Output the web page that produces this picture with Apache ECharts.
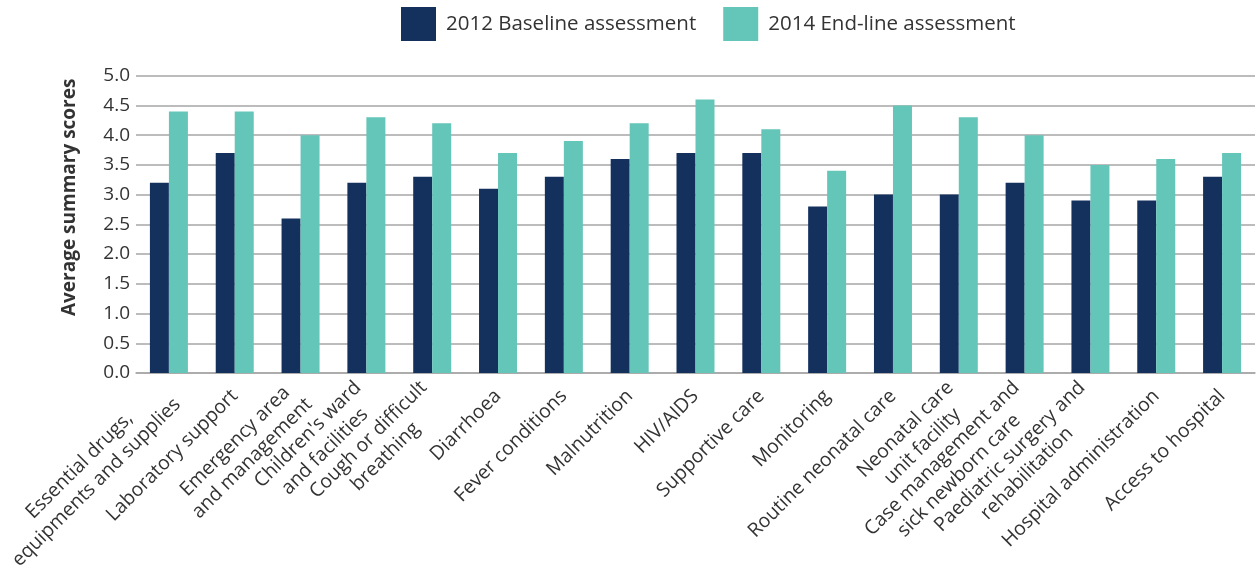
<!DOCTYPE html>
<html><head><meta charset="utf-8">
<script src="https://cdn.jsdelivr.net/npm/echarts@6/dist/echarts.min.js"></script>
<style>html,body{margin:0;padding:0;background:#fff}#c{width:1257px;height:570px}</style>
</head><body><div id="c"></div>
<script>
const categories = [
  "Essential drugs,\nequipments and supplies",
  "Laboratory support",
  "Emergency area\nand management",
  "Children's ward\nand facilities",
  "Cough or difficult\nbreathing",
  "Diarrhoea",
  "Fever conditions",
  "Malnutrition",
  "HIV/AIDS",
  "Supportive care",
  "Monitoring",
  "Routine neonatal care",
  "Neonatal care\nunit facility",
  "Case management and\nsick newborn care",
  "Paediatric surgery and\nrehabilitation",
  "Hospital administration",
  "Access to hospital"
];
const baseline2012 = [3.2, 3.7, 2.6, 3.2, 3.3, 3.1, 3.3, 3.6, 3.7, 3.7, 2.8, 3.0, 3.0, 3.2, 2.9, 2.9, 3.3];
const endline2014  = [4.4, 4.4, 4.0, 4.3, 4.2, 3.7, 3.9, 4.2, 4.6, 4.1, 3.4, 4.5, 4.3, 4.0, 3.5, 3.6, 3.7];
const yTicks = ["0.0","0.5","1.0","1.5","2.0","2.5","3.0","3.5","4.0","4.5","5.0"];

const font = "'Open Sans', 'Noto Sans', sans-serif";
const chart = echarts.init(document.getElementById('c'));
chart.setOption({
  animation: false,
  textStyle: { fontFamily: font },
  legend: {
    left: 396, top: 2,
    itemWidth: 35, itemHeight: 34, itemGap: 27,
    icon: 'rect',
    textStyle: { fontSize: 20.5, color: '#333', fontFamily: font, padding: [0,0,0,5] },
    data: ["2012 Baseline assessment", "2014 End-line assessment"]
  },
  grid: { left: 136, right: 2, top: 75.7, bottom: 197, containLabel: false, outerBoundsMode: 'none' },
  xAxis: {
    type: 'category',
    data: categories,
    axisLine: { lineStyle: { color: '#a6a6a6', width: 1.5 } },
    axisTick: { show: false },
    axisLabel: {
      interval: 0, rotate: 45, margin: 20,
      color: '#333', fontSize: 19.5, fontFamily: font,
      formatter: v => v.split('\n').map(s => '{c|' + s + '}').join('\n'),
      rich: { c: { align: 'center', fontSize: 19.5, fontFamily: font, color: '#333', lineHeight: 24 } }
    }
  },
  yAxis: {
    type: 'value', min: 0, max: 5, interval: 0.5,
    name: 'Average summary scores',
    nameLocation: 'middle', nameGap: 57, nameRotate: 90,
    nameTextStyle: { fontSize: 19, fontWeight: 'bold', color: '#333', fontFamily: font, padding: [0, 0, 0, 54] },
    axisLine: { show: false }, axisTick: { show: false },
    axisLabel: {
      color: '#333', fontSize: 19, margin: 6, fontFamily: font,
      formatter: v => yTicks[Math.round(v / 0.5)]
    },
    splitLine: { lineStyle: { color: '#a6a6a6', width: 1.5 } }
  },
  series: [
    { name: "2012 Baseline assessment", type: 'bar', data: baseline2012,
      barWidth: 19, barGap: '0%', itemStyle: { color: '#14315e' } },
    { name: "2014 End-line assessment", type: 'bar', data: endline2014,
      barWidth: 19, itemStyle: { color: '#64c5b9' } }
  ]
});
</script></body></html>
